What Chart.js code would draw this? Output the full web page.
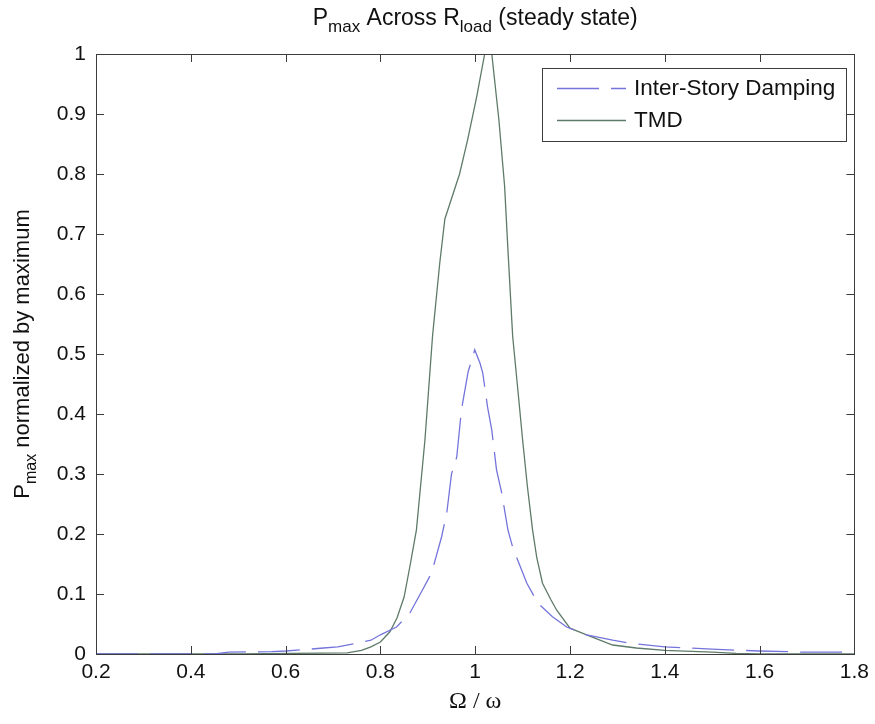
<!DOCTYPE html>
<html>
<head>
<meta charset="utf-8">
<script src="https://cdn.jsdelivr.net/npm/chart.js@4.4.0/dist/chart.umd.min.js"></script>
<style>
  html, body { margin: 0; padding: 0; background: #ffffff; }
  #c { display: block; }
</style>
</head>
<body>
<canvas id="c" width="875" height="724"></canvas>
<script>
// ---- data ----
const interStoryX = [0.2, 0.45, 0.48, 0.57, 0.6, 0.65, 0.68, 0.71, 0.75, 0.78, 0.80, 0.834, 0.862, 0.889, 0.908, 0.929, 0.94, 0.95, 0.961, 0.971, 0.985, 0.999, 1.01, 1.016, 1.026, 1.035, 1.045, 1.056, 1.069, 1.079, 1.109, 1.132, 1.163, 1.193, 1.235, 1.29, 1.326, 1.4, 1.5, 1.6, 1.7, 1.8];
const interStoryY = [0, 0, 0.003, 0.004, 0.005, 0.008, 0.01, 0.012, 0.018, 0.023, 0.032, 0.045, 0.068, 0.107, 0.135, 0.195, 0.235, 0.30, 0.328, 0.407, 0.47, 0.507, 0.485, 0.468, 0.412, 0.373, 0.307, 0.268, 0.207, 0.178, 0.118, 0.085, 0.062, 0.045, 0.032, 0.023, 0.018, 0.012, 0.008, 0.005, 0.003, 0.003];

const tmdX = [0.2, 0.5, 0.73, 0.76, 0.78, 0.80, 0.82, 0.835, 0.85, 0.862, 0.876, 0.894, 0.91, 0.925, 0.936, 0.967, 0.984, 1.003, 1.02, 1.035, 1.05, 1.062, 1.07, 1.079, 1.09, 1.1, 1.11, 1.121, 1.13, 1.142, 1.16, 1.172, 1.2, 1.235, 1.29, 1.34, 1.4, 1.5, 1.55, 1.6, 1.8];
const tmdY = [0, 0, 0.002, 0.006, 0.012, 0.02, 0.037, 0.06, 0.095, 0.145, 0.207, 0.357, 0.53, 0.65, 0.725, 0.80, 0.857, 0.928, 1.0, 1.0, 0.89, 0.78, 0.66, 0.53, 0.44, 0.357, 0.28, 0.207, 0.16, 0.118, 0.09, 0.073, 0.043, 0.032, 0.015, 0.01, 0.006, 0.003, 0.001, 0, 0];

const seriesLabels = ['Inter-Story Damping', 'TMD'];
const xTickValues = [0.2, 0.4, 0.6, 0.8, 1.0, 1.2, 1.4, 1.6, 1.8];
const yTickValues = [0, 0.1, 0.2, 0.3, 0.4, 0.5, 0.6, 0.7, 0.8, 0.9, 1.0];

const titleParts = [{t:'P'}, {t:'max', sub:true}, {t:' Across R'}, {t:'load', sub:true}, {t:' (steady state)'}];
const yTitleParts = [{t:'P'}, {t:'max', sub:true}, {t:' normalized by maximum'}];
const xTitleText = 'Ω / ω';

// ---- styling ----
const SANS = '"Liberation Sans", Arial, Helvetica, sans-serif';
const SERIF = '"Liberation Serif", "Times New Roman", serif';
const AXIS_COLOR = '#3c3c3c';
const TEXT_COLOR = '#111111';

function toPoints(xs, ys) { return xs.map((x, i) => ({ x: x, y: ys[i] })); }

function fmt(v) { return String(Number(v.toFixed(1))); }

function richWidth(ctx, parts, size, subSize) {
  let w = 0;
  for (const p of parts) {
    ctx.font = (p.sub ? subSize : size) + 'px ' + SANS;
    w += ctx.measureText(p.t).width;
  }
  return w;
}
function drawRich(ctx, parts, cx, baseY, size, subSize, subDrop) {
  const total = richWidth(ctx, parts, size, subSize);
  let x = cx - total / 2;
  ctx.textAlign = 'left';
  ctx.textBaseline = 'alphabetic';
  for (const p of parts) {
    ctx.font = (p.sub ? subSize : size) + 'px ' + SANS;
    ctx.fillText(p.t, x, baseY + (p.sub ? subDrop : 0));
    x += ctx.measureText(p.t).width;
  }
}

const decorPlugin = {
  id: 'decor',
  afterDatasetsDraw(chart) {
    const ctx = chart.ctx;
    const a = chart.chartArea;
    const xs = chart.scales.x, ys = chart.scales.y;
    ctx.save();
    // axes box
    ctx.strokeStyle = AXIS_COLOR;
    ctx.lineWidth = 1;
    ctx.strokeRect(Math.round(a.left) + 0.5, Math.round(a.top) + 0.5, Math.round(a.right - a.left), Math.round(a.bottom - a.top));
    // inward ticks on all sides
    const tl = 8;
    ctx.beginPath();
    for (const v of xTickValues) {
      const px = Math.round(xs.getPixelForValue(v)) + 0.5;
      ctx.moveTo(px, a.bottom); ctx.lineTo(px, a.bottom - tl);
      ctx.moveTo(px, a.top); ctx.lineTo(px, a.top + tl);
    }
    for (const v of yTickValues) {
      const py = Math.round(ys.getPixelForValue(v)) + 0.5;
      ctx.moveTo(a.left, py); ctx.lineTo(a.left + tl, py);
      ctx.moveTo(a.right, py); ctx.lineTo(a.right - tl, py);
    }
    ctx.stroke();

    // legend box
    const lx = 542, ly = 68, lw = 304, lh = 73;
    ctx.fillStyle = '#ffffff';
    ctx.fillRect(lx, ly, lw, lh);
    ctx.strokeStyle = AXIS_COLOR;
    ctx.strokeRect(lx + 0.5, ly + 0.5, lw, lh);
    const rowsY = [88, 120];
    chart.data.datasets.forEach((ds, i) => {
      const y = rowsY[i];
      ctx.strokeStyle = ds.borderColor;
      ctx.lineWidth = ds.borderWidth;
      ctx.setLineDash(ds.borderDash || []);
      ctx.beginPath();
      ctx.moveTo(557, y + 0.5);
      ctx.lineTo(626, y + 0.5);
      ctx.stroke();
      ctx.setLineDash([]);
      ctx.fillStyle = TEXT_COLOR;
      ctx.font = '22.5px ' + SANS;
      ctx.textAlign = 'left';
      ctx.textBaseline = 'middle';
      ctx.fillText(ds.label, 634, y + 1);
    });

    // title
    ctx.fillStyle = TEXT_COLOR;
    const cx = (a.left + a.right) / 2;
    drawRich(ctx, titleParts, cx, 25, 23, 17, 7);

    // x-axis title
    ctx.font = '24px ' + SERIF;
    ctx.textAlign = 'center';
    ctx.textBaseline = 'alphabetic';
    ctx.fillText(xTitleText, cx, 708);

    // y-axis title (rotated)
    ctx.translate(29, (a.top + a.bottom) / 2);
    ctx.rotate(-Math.PI / 2);
    drawRich(ctx, yTitleParts, 0, 0, 22, 16, 7);
    ctx.restore();
  }
};

new Chart(document.getElementById('c'), {
  type: 'line',
  data: {
    datasets: [
      {
        label: seriesLabels[0],
        data: toPoints(interStoryX, interStoryY),
        borderColor: '#7474dc',
        borderWidth: 1.3,
        borderDash: [42, 12],
        pointRadius: 0,
        tension: 0,
        fill: false
      },
      {
        label: seriesLabels[1],
        data: toPoints(tmdX, tmdY),
        borderColor: '#5e7a68',
        borderWidth: 1.3,
        pointRadius: 0,
        tension: 0,
        fill: false
      }
    ]
  },
  options: {
    responsive: false,
    animation: false,
    devicePixelRatio: 1,
    layout: { padding: { left: 0, top: 54, right: 20, bottom: 0 } },
    plugins: {
      legend: { display: false },
      title: { display: false },
      tooltip: { enabled: false }
    },
    scales: {
      x: {
        type: 'linear',
        min: 0.2,
        max: 1.8,
        afterFit: (s) => { s.height = 70; },
        afterBuildTicks: (s) => { s.ticks = xTickValues.map(v => ({ value: v })); },
        ticks: {
          callback: (v) => fmt(v),
          font: { family: SANS, size: 21 },
          color: TEXT_COLOR,
          padding: 6,
          maxRotation: 0,
          autoSkip: false
        },
        grid: { display: false, drawTicks: false },
        border: { display: false }
      },
      y: {
        type: 'linear',
        min: 0,
        max: 1,
        afterFit: (s) => { s.width = 96; },
        afterBuildTicks: (s) => { s.ticks = yTickValues.map(v => ({ value: v })); },
        ticks: {
          callback: (v) => fmt(v),
          font: { family: SANS, size: 21 },
          color: TEXT_COLOR,
          padding: 10,
          autoSkip: false
        },
        grid: { display: false, drawTicks: false },
        border: { display: false }
      }
    }
  },
  plugins: [decorPlugin]
});
</script>
</body>
</html>
